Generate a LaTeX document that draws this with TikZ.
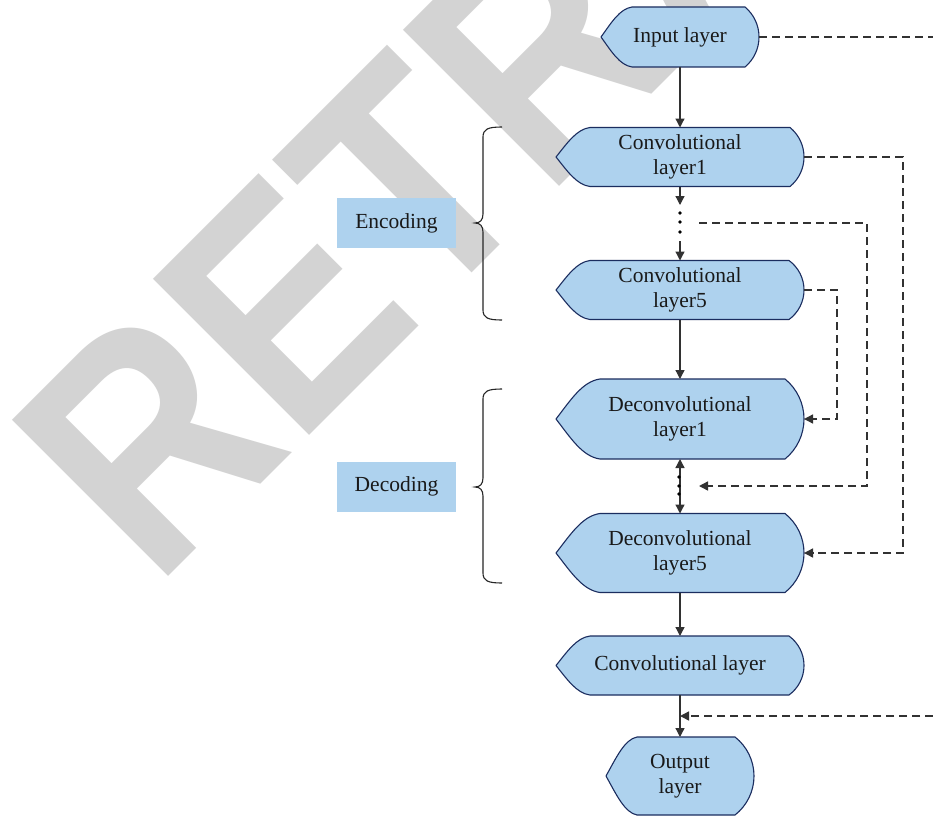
\documentclass[tikz,border=0pt]{standalone}
\usepackage{fontspec}
\setmainfont{Liberation Serif}
\newfontfamily\wmfont{Liberation Sans}
\usetikzlibrary{arrows.meta}

\definecolor{layerblue}{RGB}{174,210,238}
\definecolor{layeredge}{RGB}{27,45,95}
\definecolor{linegray}{RGB}{50,50,50}
\definecolor{wmgray}{RGB}{211,211,211}

\tikzset{
  layerline/.style={fill=layerblue, draw=layeredge, line width=1.1bp, line join=round},
  layertext/.style={align=center, inner sep=0pt, outer sep=0pt, text=black!90,
    font=\fontsize{21.5bp}{25bp}\selectfont},
  tagbox/.style={fill=layerblue, inner sep=0pt, minimum width=119bp, minimum height=50bp,
    text=black!90, font=\fontsize{21.5bp}{25bp}\selectfont},
  flow/.style={draw=linegray, line width=1.3bp, -{Triangle[length=9bp,width=9bp]}},
  bothflow/.style={draw=linegray, line width=1.3bp,
    {Triangle[length=9bp,width=9bp]}-{Triangle[length=9bp,width=9bp]}},
  skip/.style={draw=linegray, line width=1.4bp, dash pattern=on 8bp off 5bp},
  skiparrow/.style={skip, -{Triangle[length=9bp,width=9bp]}},
  bracket/.style={draw=black!85, line width=1.1bp},
  watermark/.style={text=wmgray, inner sep=0pt, font=\wmfont\bfseries\fontsize{321bp}{321bp}\selectfont},
}

% Display-type layer: pointed left side, straight top and bottom, arched right side.
% #1 name, #2 cx, #3 cy, #4 width, #5 height, #6 depth of left point, #7 depth of right arch, #8 text
\newcommand\layerbox[8]{%
  \pgfmathsetmacro\lxl{#2-#4/2}%
  \pgfmathsetmacro\lxr{#2+#4/2}%
  \pgfmathsetmacro\lyt{#3-#5/2}%
  \pgfmathsetmacro\lyb{#3+#5/2}%
  \pgfmathsetmacro\lhh{#5/2}%
  \pgfmathsetmacro\lR{(#7*#7+\lhh*\lhh)/(2*#7)}%
  \pgfmathsetmacro\lth{asin(\lhh/\lR)}%
  \pgfmathsetmacro\lk{4/3*tan(\lth/4)*\lR}%
  \pgfmathsetmacro\lks{\lk*sin(\lth)}%
  \pgfmathsetmacro\lkc{\lk*cos(\lth)}%
  \path[layerline] (\lxl,#3)
    .. controls (\lxl+0.33*#6,#3-0.47*\lhh) and (\lxl+0.6*#6,\lyt+0.06*\lhh) .. (\lxl+#6,\lyt)
    -- (\lxr-#7,\lyt)
    .. controls (\lxr-#7+\lks,\lyt+\lkc) and (\lxr,#3-\lk) .. (\lxr,#3)
    .. controls (\lxr,#3+\lk) and (\lxr-#7+\lks,\lyb-\lkc) .. (\lxr-#7,\lyb)
    -- (\lxl+#6,\lyb)
    .. controls (\lxl+0.6*#6,\lyb-0.06*\lhh) and (\lxl+0.33*#6,#3+0.47*\lhh) .. cycle;
  \node[layertext, minimum width=#4bp, minimum height=#5bp] (#1) at (#2,#3) {#8};%
}

\begin{document}
\begin{tikzpicture}[x=1bp, y=-1bp]
  \useasboundingbox (0,0) rectangle (933,816);
  \fill[white] (0,0) rectangle (933,816);

  % diagonal stamp behind the chart
  \begin{scope}
    \clip (0,0) rectangle (933,816);
    \node[watermark, anchor=base west, rotate=45] (stamp) at (155.5,590)
      {\scalebox{0.86}[1]{RETRACTED}};
  \end{scope}

  % layers
  \layerbox{in}{680}{37}{158}{60}{31}{14}{Input layer}
  \layerbox{c1}{680}{157}{248}{59}{34}{14}{Convolutional\\layer1}
  \layerbox{c5}{680}{290}{248}{59}{34}{15}{Convolutional\\layer5}
  \layerbox{dc1}{680}{419}{248}{80}{44}{19}{Deconvolutional\\layer1}
  \layerbox{dc5}{680}{553}{248}{79}{44}{19}{Deconvolutional\\layer5}
  \layerbox{cv}{680}{665.5}{248}{59}{34}{15}{Convolutional layer}
  \layerbox{out}{680}{776}{148}{78}{31}{19}{Output\\layer}

  % group labels
  \node[tagbox] (enc) at (396.5,223) {Encoding};
  \node[tagbox] (dec) at (396.5,486.5) {Decoding};

  % braces
  \draw[bracket] (502,127) .. controls (488,127) and (483,129) .. (483,137)
    -- (483,214) .. controls (483,220) and (480,223) .. (475,223)
    .. controls (480,223) and (483,226) .. (483,232)
    -- (483,310) .. controls (483,318) and (488,320) .. (502,320);
  \draw[bracket] (502,389) .. controls (488,389) and (483,391) .. (483,399)
    -- (483,478) .. controls (483,484) and (480,487) .. (475,487)
    .. controls (480,487) and (483,490) .. (483,496)
    -- (483,573) .. controls (483,581) and (488,583) .. (502,583);

  % main flow
  \coordinate (ga) at (680,205);
  \coordinate (gb) at (680,241);
  \coordinate (join) at (680,716);
  \draw[flow] (in) -- (c1);
  \draw[flow] (c1) -- (ga);
  \draw[flow] (gb) -- (c5);
  \foreach \yy in {213,222,232} \fill[black] (680,\yy) circle (1.8);
  \draw[flow] (c5) -- (dc1);
  \draw[bothflow] (dc1) -- (dc5);
  \foreach \yy in {477,486,494} \fill[black] (679,\yy) circle (1.8);
  \draw[flow] (dc5) -- (cv);
  \draw[flow] (cv) -- (out);

  % skip connections
  \coordinate (rtop) at (933,37);
  \coordinate (rbot) at (933,716);
  \coordinate (sk1) at (699,223);
  \coordinate (sk2) at (699,486);
  \draw[skip] (in.east) -- (rtop);
  \draw[skiparrow] (rbot) -- (join);
  \draw[skiparrow] (c1.east) -- ++(99,0) |- (dc5.east);
  \draw[skiparrow] (c5.east) -- ++(33,0) |- (dc1.east);
  \draw[skiparrow] (sk1) -- ++(168,0) |- (sk2);
\end{tikzpicture}
\end{document}
